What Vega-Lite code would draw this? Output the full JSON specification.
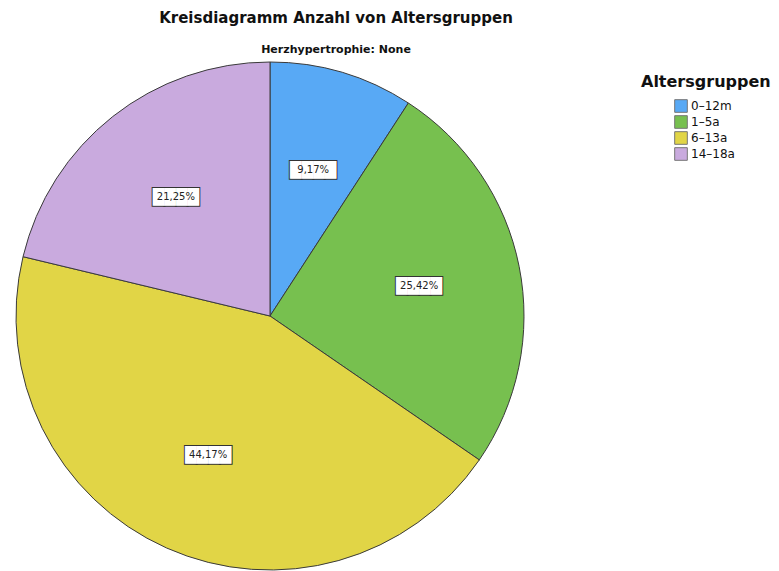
{
  "$schema": "https://vega.github.io/schema/vega-lite/v6.json",
  "autosize": "none",
  "padding": {"left": 16, "top": 62, "right": 255, "bottom": 1},
  "width": 508,
  "height": 508,
  "background": "white",
  "title": {
    "text": "Kreisdiagramm Anzahl von Altersgruppen",
    "subtitle": "Herzhypertrophie: None",
    "anchor": "middle",
    "dx": 66,
    "offset": 5,
    "font": "DejaVu Sans",
    "fontSize": 15,
    "fontWeight": "bold",
    "color": "#111111",
    "subtitleFont": "DejaVu Sans",
    "subtitleFontSize": 11,
    "subtitleFontWeight": "bold",
    "subtitleColor": "#111111",
    "subtitlePadding": 18
  },
  "data": {
    "values": [
      {"gruppe": "0–12m", "idx": 1, "pct": 9.17, "label": "9,17%"},
      {"gruppe": "1–5a", "idx": 2, "pct": 25.42, "label": "25,42%"},
      {"gruppe": "6–13a", "idx": 3, "pct": 44.17, "label": "44,17%"},
      {"gruppe": "14–18a", "idx": 4, "pct": 21.25, "label": "21,25%"}
    ]
  },
  "encoding": {
    "theta": {"field": "pct", "type": "quantitative", "stack": true},
    "order": {"field": "idx", "type": "quantitative"}
  },
  "layer": [
    {
      "mark": {"type": "arc", "stroke": "#3a3a3a", "strokeWidth": 1},
      "encoding": {
        "color": {
          "field": "gruppe",
          "type": "nominal",
          "sort": ["0–12m", "1–5a", "6–13a", "14–18a"],
          "scale": {
            "domain": ["0–12m", "1–5a", "6–13a", "14–18a"],
            "range": ["#58a9f5", "#77c04f", "#e1d546", "#c9aade"]
          },
          "legend": {
            "title": "Altersgruppen",
            "orient": "none",
            "legendX": 625,
            "legendY": 12,
            "titleFont": "DejaVu Sans",
            "titleFontSize": 16,
            "titleFontWeight": "bold",
            "titleColor": "#111111",
            "titlePadding": 9,
            "symbolType": "square",
            "symbolSize": 160,
            "symbolStrokeColor": "#777777",
            "symbolStrokeWidth": 1,
            "symbolOffset": 33,
            "labelFont": "DejaVu Sans",
            "labelFontSize": 12,
            "labelColor": "#111111",
            "labelOffset": 3,
            "rowPadding": -3
          }
        }
      }
    },
    {
      "mark": {"type": "text", "radius": 152, "text": "████", "font": "DejaVu Sans", "fontSize": 15, "fill": "#333333", "stroke": "#333333", "strokeWidth": 2, "baseline": "middle", "align": "center"}
    },
    {
      "mark": {"type": "text", "radius": 152, "text": "████", "font": "DejaVu Sans", "fontSize": 15, "fill": "#ffffff", "baseline": "middle", "align": "center"}
    },
    {
      "mark": {"type": "text", "radius": 152, "font": "DejaVu Sans", "fontSize": 10, "fill": "#222222", "baseline": "middle", "align": "center"},
      "encoding": {"text": {"field": "label", "type": "nominal"}}
    }
  ]
}
